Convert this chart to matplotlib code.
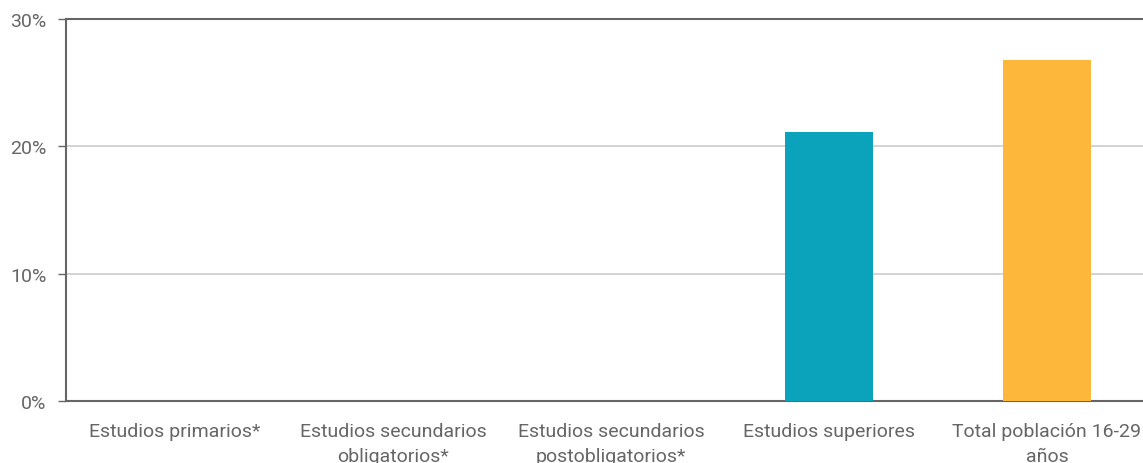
import matplotlib.pyplot as plt
import numpy as np

categories = ['Estudios primarios*', 'Estudios secundarios\nobligatorios*',
              'Estudios secundarios\npostobligatorios*', 'Estudios superiores',
              'Total población 16-29\naños']
values = [np.nan, np.nan, np.nan, 21.1, 26.8]
colors = ['#0aa3bb', '#0aa3bb', '#0aa3bb', '#0aa3bb', '#fdb83b']
yticks = [0, 10, 20, 30]

plt.rcParams['font.family'] = ['Roboto', 'DejaVu Sans']

fig = plt.figure(figsize=(11.43, 4.64), dpi=100)
ax = fig.add_axes([66 / 1143, 62 / 464, 1090 / 1143, 382 / 464])

x = np.arange(len(categories))
ax.bar(x, values, width=0.404, color=colors, zorder=3)

ax.set_xlim(-0.5, len(categories) - 0.5)
ax.set_ylim(0, 30)
ax.set_yticks(yticks)
ax.set_yticklabels([f'{v}%' for v in yticks])
ax.set_xticks(x)
ax.set_xticklabels(categories, linespacing=1.5)

ax.grid(axis='y', color='#cccccc', linewidth=1.2, zorder=0)
for side in ['left', 'bottom', 'top']:
    ax.spines[side].set_color('#666666')
    ax.spines[side].set_linewidth(1.5)
ax.spines['right'].set_visible(False)

ax.tick_params(axis='y', length=6, width=1, color='#666666', labelcolor='#666666',
               labelsize=14, pad=8)
ax.tick_params(axis='x', length=0, labelcolor='#666666', labelsize=14, pad=15)

fig.savefig('out.png', dpi=100)
